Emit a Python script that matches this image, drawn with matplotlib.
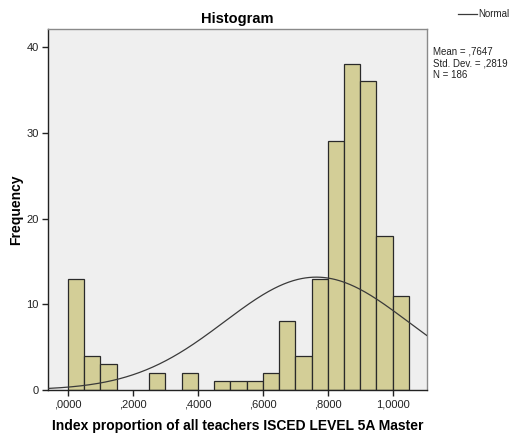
import numpy as np
import matplotlib
matplotlib.use("Agg")
import matplotlib.pyplot as plt

plt.rcParams['font.family'] = ['Liberation Sans', 'DejaVu Sans']

# Histogram bins (left edges) and counts
bin_left = [0.00, 0.05, 0.10, 0.25, 0.35, 0.45, 0.50, 0.55, 0.60, 0.65,
            0.70, 0.75, 0.80, 0.85, 0.90, 0.95, 1.00]
counts = [13, 4, 3, 2, 2, 1, 1, 1, 2, 8, 4, 13, 29, 38, 36, 18, 11]
bin_width = 0.05

mean = 0.7647
std = 0.2819
n = 186

xticks = [0.0, 0.2, 0.4, 0.6, 0.8, 1.0]
xticklabels = [",0000", ",2000", ",4000", ",6000", ",8000", "1,0000"]
yticks = [0, 10, 20, 30, 40]

fig = plt.figure(figsize=(5.22, 4.37), dpi=100)
ax = fig.add_axes([0.0929, 0.1076, 0.7246, 0.826])
ax.set_facecolor('#efefef')

ax.bar(bin_left, counts, width=bin_width, align='edge', color='#d3ce97',
       edgecolor='#2a2a2a', linewidth=0.9, zorder=2)

xs = np.linspace(-0.0594, 1.1046, 400)
ys = n * bin_width / (std * np.sqrt(2 * np.pi)) * np.exp(-0.5 * ((xs - mean) / std) ** 2)
ax.plot(xs, ys, color='#3a3a3a', linewidth=0.9, zorder=3)

ax.set_xlim(-0.0594, 1.1046)
ax.set_ylim(0, 42.1)
ax.set_xticks(xticks)
ax.set_xticklabels(xticklabels)
ax.set_yticks(yticks)
ax.tick_params(axis='both', labelsize=8, colors='#222222', length=4, width=1, pad=3)

for side in ['top', 'right']:
    ax.spines[side].set_color('#8a8a8a')
    ax.spines[side].set_linewidth(1.0)
for side in ['left', 'bottom']:
    ax.spines[side].set_color('#222222')
    ax.spines[side].set_linewidth(1.0)

ax.set_title("Histogram", fontsize=10.5, fontweight='bold', pad=4)
ax.set_xlabel("Index proportion of all teachers ISCED LEVEL 5A Master",
              fontsize=10, fontweight='bold', labelpad=7)
ax.set_ylabel("Frequency", fontsize=10, fontweight='bold', labelpad=2)

# Legend entry and summary statistics
fig.add_artist(plt.Line2D([458 / 522, 477 / 522], [1 - 14 / 437, 1 - 14 / 437],
                          color='#3a3a3a', linewidth=0.9))
fig.text(478 / 522, 1 - 14 / 437, "Normal", fontsize=7, va='center', ha='left',
         color='#222222')
fig.text(433 / 522, 1 - 47 / 437,
         "Mean = ,7647\nStd. Dev. = ,2819\nN = 186",
         fontsize=7, va='top', ha='left', color='#222222', linespacing=1.2)

fig.savefig("out.png", dpi=100)
